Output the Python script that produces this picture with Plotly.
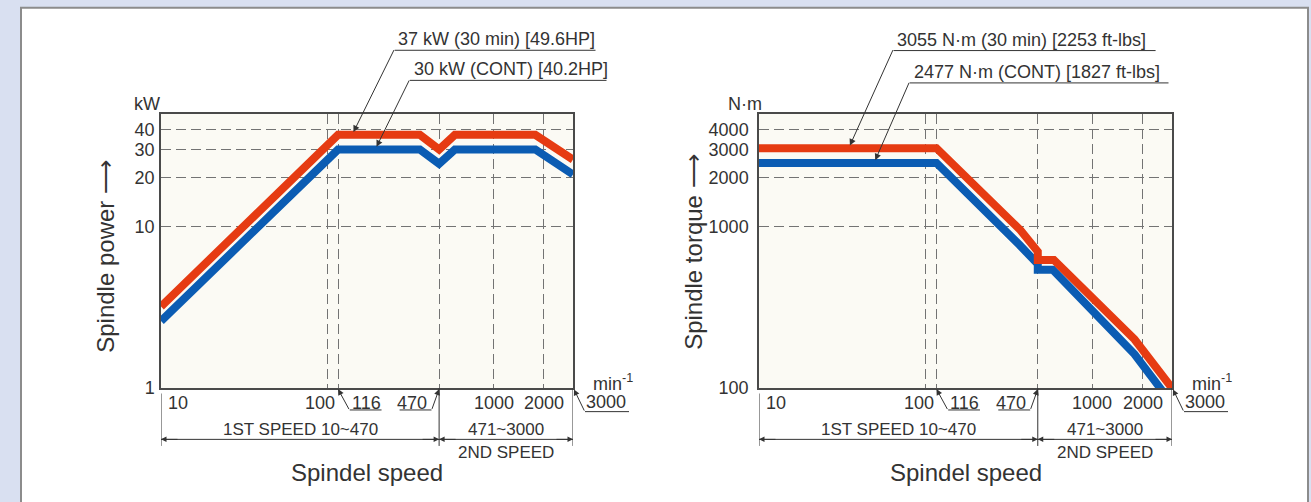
import math
import plotly.graph_objects as go

W, H = 1311, 502

# ---------------- data ----------------
speed_power_30min = [10, 116, 360, 470, 585, 1780, 3000]
power_30min = [3.2, 37, 37, 30, 37, 37, 26]
speed_power_cont = [10, 116, 360, 470, 585, 1780, 3000]
power_cont = [2.6, 30, 30, 24.5, 30, 30, 21]

speed_torque_30min = [10, 116, 370, 470, 470, 587, 1790, 3000]
torque_30min = [3055, 3055, 950, 700, 622, 622, 200, 100]
speed_torque_cont = [10, 116, 365, 470, 470, 578, 1790, 3000]
torque_cont = [2477, 2477, 770, 586, 541, 541, 162, 80]

speed_range = [10, 3000]
power_range = [1, 50]
torque_range = [100, 5000]
x_grid_vals = [100, 116, 470, 1000, 2000]
power_ticks = [1, 10, 20, 30, 40]
torque_ticks = [100, 1000, 2000, 3000, 4000]
torque_grid = [1000, 2000, 4000]
gear_change = 470
base_speed = 116

power_labels = ["37 kW (30 min) [49.6HP]", "30 kW (CONT) [40.2HP]"]
torque_labels = ["3055 N·m (30 min) [2253 ft-lbs]", "2477 N·m (CONT) [1827 ft-lbs]"]

RED = "#e63b12"
BLUE = "#0b5cb3"
INK = "#333333"
GRID = "#737373"
FONT = "Liberation Sans, Arial, Helvetica, sans-serif"

PLOT_TOP, PLOT_BOT = 116, 396
LEFT_X = (161, 573)
RIGHT_X = (759, 1172)


def px(x):
    return x / W


def py(y):
    return 1 - y / H


def lg(v):
    return math.log10(v)


def to_px(v, rng, p0, p1):
    return p0 + (lg(v) - lg(rng[0])) / (lg(rng[1]) - lg(rng[0])) * (p1 - p0)


fig = go.Figure()
for sx, sy, col, xa, ya in [
    (speed_power_cont, power_cont, BLUE, "x", "y"),
    (speed_power_30min, power_30min, RED, "x", "y"),
    (speed_torque_cont, torque_cont, BLUE, "x2", "y2"),
    (speed_torque_30min, torque_30min, RED, "x2", "y2"),
]:
    fig.add_trace(go.Scatter(x=sx, y=sy, mode="lines", line=dict(color=col, width=8),
                             xaxis=xa, yaxis=ya, hoverinfo="skip"))

ydom = [py(PLOT_BOT), py(PLOT_TOP)]
dash = "10px,5px"

common_x = dict(type="log", range=[lg(speed_range[0]), lg(speed_range[1])],
                showline=True, mirror=True, linecolor="#4a4a4a", linewidth=1.5,
                tickmode="array", tickvals=x_grid_vals, showticklabels=False,
                ticks="", showgrid=True, gridcolor=GRID, gridwidth=1,
                griddash=dash, zeroline=False, fixedrange=True)

fig.update_layout(
    width=W, height=H, autosize=False,
    margin=dict(l=0, r=0, t=0, b=0),
    paper_bgcolor="#d9e0f1",
    plot_bgcolor="rgba(0,0,0,0)",
    showlegend=False,
    font=dict(family=FONT, color=INK, size=18),
    xaxis=dict(domain=[px(LEFT_X[0]), px(LEFT_X[1])], anchor="y", **common_x),
    xaxis2=dict(domain=[px(RIGHT_X[0]), px(RIGHT_X[1])], anchor="y2", **common_x),
    yaxis=dict(domain=ydom, anchor="x", type="log",
               range=[lg(power_range[0]), lg(power_range[1])],
               showline=True, mirror=True, linecolor="#4a4a4a", linewidth=1.5,
               tickmode="array", tickvals=power_ticks,
               ticktext=[str(v) for v in power_ticks],
               ticks="", ticklabelstandoff=1, tickfont=dict(size=18, color=INK),
               showgrid=True, gridcolor=GRID, gridwidth=1, griddash=dash,
               zeroline=False, fixedrange=True),
    yaxis2=dict(domain=ydom, anchor="x2", type="log",
                range=[lg(torque_range[0]), lg(torque_range[1])],
                showline=True, mirror=True, linecolor="#4a4a4a", linewidth=1.5,
                tickmode="array", tickvals=torque_ticks,
                ticktext=[str(v) for v in torque_ticks],
                ticks="", ticklabelstandoff=5, tickfont=dict(size=18, color=INK),
                showgrid=False,
                minor=dict(tickmode="array", tickvals=torque_grid, showgrid=True,
                           gridcolor=GRID, gridwidth=1, griddash=dash, ticks=""),
                zeroline=False, fixedrange=True),
)

shapes = []
annos = []

shapes.append(dict(type="rect", xref="paper", yref="paper", layer="below",
                   x0=px(21), x1=px(1308), y0=py(515), y1=py(8),
                   fillcolor="white", line=dict(color="#8c8c8c", width=2)))
for (x0, x1) in (LEFT_X, RIGHT_X):
    shapes.append(dict(type="rect", xref="paper", yref="paper", layer="below",
                       x0=px(x0), x1=px(x1), y0=py(PLOT_BOT), y1=py(PLOT_TOP),
                       fillcolor="#fbfaf4", line=dict(width=0)))


def add_text(text, x, y, xref="paper", size=18, xanchor="center", xshift=0, angle=0):
    annos.append(dict(text=text, x=x, y=y, xref=xref, yref="paper",
                      xanchor=xanchor, yanchor="middle", showarrow=False,
                      xshift=xshift, textangle=angle,
                      font=dict(size=size, color=INK, family=FONT)))


def add_arrow(x, y, ax, ay, xref="paper", yref="paper", head=2, size=1.2,
              standoff=0, xshift=0):
    annos.append(dict(text="", x=x, y=y, xref=xref, yref=yref, ax=ax, ay=ay,
                      axref="pixel", ayref="pixel", showarrow=True,
                      arrowhead=head, arrowsize=size, arrowwidth=1,
                      arrowcolor=INK, standoff=standoff, xshift=xshift,
                      font=dict(size=10)))


def hline_px(x0, x1, y):
    shapes.append(dict(type="line", xref="paper", yref="paper", x0=px(x0), x1=px(x1),
                       y0=py(y), y1=py(y), line=dict(color=INK, width=1)))


def vline(x, y0, y1, xref):
    shapes.append(dict(type="line", xref=xref, yref="paper", x0=x, x1=x,
                       y0=py(y0), y1=py(y1), line=dict(color=INK, width=1)))


def build_chart(yr, yname, ax_id, plot_x, unit, title, title_xy, top_labels,
                top_specs, curve_30, curve_cont):
    p0, p1 = plot_x
    add_text(unit, px(p0 - 14), py(106), size=18)
    add_text(title + " ⟶", px(title_xy[0]), py(title_xy[1]), size=24, angle=-90)
    add_text("Spindel speed", px((p0 + p1) / 2), py(482), size=24)

    for label, spec, (sx, sy) in zip(top_labels, top_specs, (curve_30, curve_cont)):
        tx0, ty, ux0, ux1, uy, tip_speed = spec
        add_text(label, px(tx0), py(ty), xanchor="left", size=18)
        hline_px(ux0, ux1, uy)
        level = sy[1]
        tipx = to_px(tip_speed, speed_range, p0, p1)
        tipy = PLOT_BOT - (lg(level) - lg(yr[0])) / (lg(yr[1]) - lg(yr[0])) * (PLOT_BOT - PLOT_TOP)
        add_arrow(lg(tip_speed), lg(level), ux0 - tipx, uy - tipy,
                  xref=ax_id, yref=yname, head=2, size=1.3, standoff=3)

    x_base = to_px(base_speed, speed_range, p0, p1)
    x_gear = to_px(gear_change, speed_range, p0, p1)
    x_end = to_px(speed_range[1], speed_range, p0, p1)

    ylab = 410.7
    add_text("10", lg(speed_range[0]), py(ylab), xref=ax_id, xanchor="left", xshift=5)
    add_text("100", lg(100), py(ylab), xref=ax_id, xshift=-7)
    add_text("1000", lg(1000), py(ylab), xref=ax_id)
    add_text("2000", lg(2000), py(ylab), xref=ax_id)
    add_text(str(base_speed), lg(base_speed), py(ylab), xref=ax_id, xanchor="left", xshift=12)
    add_arrow(lg(base_speed), py(397), 11.7, 21.5, xref=ax_id, head=2, size=1.2)
    hline_px(x_base + 11.7, x_base + 43.5, 418.3)
    add_text(str(gear_change), lg(gear_change), py(ylab), xref=ax_id, xanchor="right", xshift=-10)
    add_arrow(lg(gear_change), py(397), -7.6, 21.3, xref=ax_id, head=2, size=1.2)
    hline_px(x_gear - 39.5, x_gear - 7.6, 418.3)
    add_text(str(speed_range[1]), lg(speed_range[1]), py(410), xref=ax_id, xanchor="left", xshift=11)
    add_arrow(lg(speed_range[1]), py(397.3), 11, 22.7, xref=ax_id, head=2, size=1.2, xshift=1)
    hline_px(x_end + 12, x_end + 56, 420)
    add_text("min<sup>-1</sup>", lg(speed_range[1]), py(390), xref=ax_id, xanchor="left", xshift=18)

    ydim = 448.3
    vline(speed_range[0], 401.5, 455, ax_id)
    vline(gear_change, 396, 455, ax_id)
    vline(speed_range[1], 396, 455, ax_id)
    hline_px(p0, x_end, ydim)
    add_arrow(lg(speed_range[0]), py(ydim), 18, 0, xref=ax_id, head=2, size=1.1)
    add_arrow(lg(gear_change), py(ydim), -18, 0, xref=ax_id, head=2, size=1.1)
    add_arrow(lg(gear_change), py(ydim), 18, 0, xref=ax_id, head=2, size=1.1)
    add_arrow(lg(speed_range[1]), py(ydim), -18, 0, xref=ax_id, head=2, size=1.1)
    add_text("1ST SPEED 10~470", px((p0 + x_gear) / 2), py(438.5), size=17)
    add_text("471~3000", px((x_gear + p1) / 2), py(438.5), size=17)
    add_text("2ND SPEED", px((x_gear + p1) / 2), py(461.5), size=17)


build_chart(power_range, "y", "x", LEFT_X, "kW", "Spindle power",
            (106, 262), power_labels,
            [(396, 40.3, 394.7, 595.5, 51.3, 141),
             (411.5, 70.8, 409.9, 606.5, 82.0, 194)],
            (speed_power_30min, power_30min), (speed_power_cont, power_cont))

build_chart(torque_range, "y2", "x2", RIGHT_X, "N·m", "Spindle torque",
            (694, 258), torque_labels,
            [(895.4, 40.8, 893.6, 1155.6, 51.6, 34.5),
             (911.5, 73.0, 909.7, 1168.5, 84.6, 49)],
            (speed_torque_30min, torque_30min), (speed_torque_cont, torque_cont))

fig.update_layout(shapes=shapes, annotations=annos)

fig.write_html(
    "out.html",
    config={"displayModeBar": False, "responsive": False},
    post_script=("document.documentElement.style.margin='0';"
                 "document.documentElement.style.overflow='hidden';"
                 "document.body.style.margin='0';"
                 "document.body.style.overflow='hidden';"),
)
